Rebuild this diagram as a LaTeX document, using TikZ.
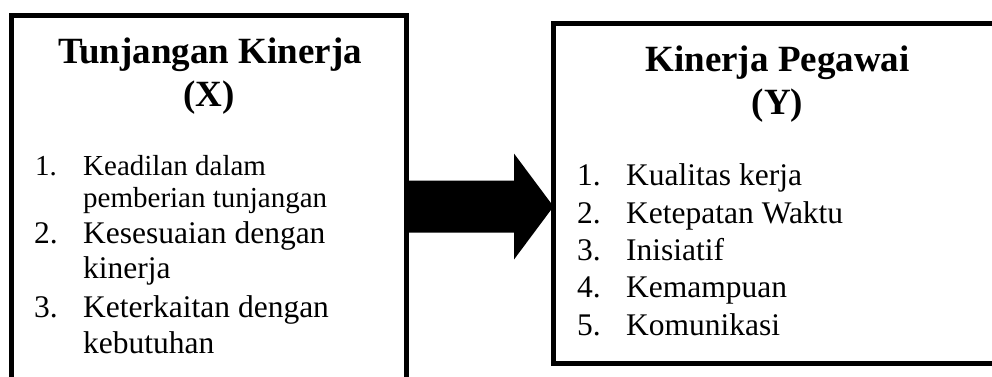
\documentclass[tikz,border=0pt]{standalone}
\usepackage{fontspec}
\setmainfont{Liberation Serif}
\usetikzlibrary{calc}
\tikzset{
  box/.style={draw, line width=5pt, inner sep=0pt, outer sep=0pt, anchor=north west},
  ttl/.style={anchor=base, inner sep=0pt, font=\fontsize{37}{43}\selectfont\bfseries},
  itm/.style={anchor=base west, inner sep=0pt, font=\fontsize{31.5}{36}\selectfont},
  itms/.style={anchor=base west, inner sep=0pt, font=\fontsize{29}{33}\selectfont},
}
\begin{document}
\begin{tikzpicture}[x=1pt,y=-1pt]
\useasboundingbox (0,0) rectangle (992,376);
\clip (0,0) rectangle (992,376);
% boxes
\node[box, minimum width=395pt, minimum height=500pt] (X) at (11.5,15.5) {};
\node[box, minimum width=600pt, minimum height=339.5pt] (Y) at (553.5,23.5) {};
% arrow
\coordinate (s) at (X.east |- 0,206.5);
\coordinate (t) at (Y.west |- 0,206.5);
\fill ($(s)+(-2,-26)$) -- ($(t)+(-39.5,-26)$) -- ($(t)+(-39.5,-53)$) -- (t)
  -- ($(t)+(-39.5,53)$) -- ($(t)+(-39.5,26)$) -- ($(s)+(-2,26)$) -- cycle;
% left text
\node[ttl] (xt1) at (210,63) {Tunjangan Kinerja};
\node[ttl] (xt2) at (209,106) {(X)};
\node[itms] (xn1) at (35,175) {1.};
\node[itms] (xi1a) at (83,175) {Keadilan dalam};
\node[itms] (xi1b) at (83,207.5) {pemberian tunjangan};
\node[itm] (xn2) at (34,243) {2.};
\node[itm] (xi2a) at (83,243) {Kesesuaian dengan};
\node[itm] (xi2b) at (83,278) {kinerja};
\node[itm] (xn3) at (34,317) {3.};
\node[itm] (xi3a) at (83,317) {Keterkaitan dengan};
\node[itm] (xi3b) at (83,353) {kebutuhan};
% right text
\node[ttl] (yt1) at (777.5,71.5) {Kinerja Pegawai};
\node[ttl] (yt2) at (777.5,114) {(Y)};
\node[itm] (yn1) at (577,185.5) {1.};
\node[itm] (yi1) at (626,185.5) {Kualitas kerja};
\node[itm] (yn2) at (577,223) {2.};
\node[itm] (yi2) at (626,223) {Ketepatan Waktu};
\node[itm] (yn3) at (577,260) {3.};
\node[itm] (yi3) at (626,260) {Inisiatif};
\node[itm] (yn4) at (577,297.5) {4.};
\node[itm] (yi4) at (626,297.5) {Kemampuan};
\node[itm] (yn5) at (577,335) {5.};
\node[itm] (yi5) at (626,335) {Komunikasi};
\end{tikzpicture}
\end{document}
